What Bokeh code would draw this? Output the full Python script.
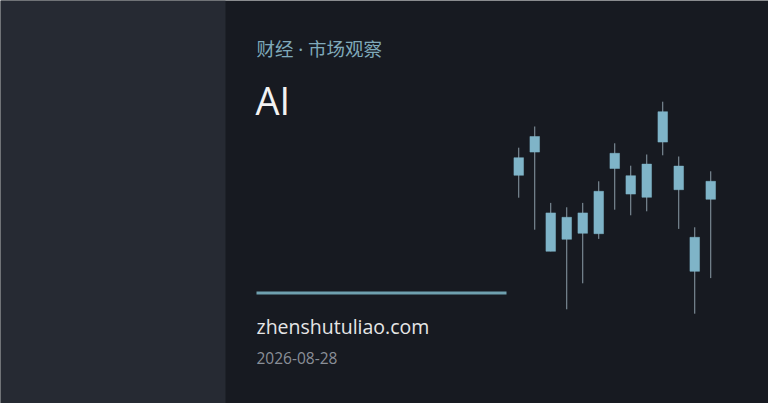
from bokeh.core.properties import value
from bokeh.embed import file_html
from bokeh.models import Range1d
from bokeh.plotting import figure
from bokeh.resources import INLINE

# card texts
kicker = "财经 · 市场观察"
title = "AI"
site = "zhenshutuliao.com"
date = "2026-08-28"

# candlestick data (arbitrary price units)
idx = list(range(13))
opens = [108.8, 114.6, 99.4, 92.8, 94.3, 94.2, 114.3, 108.7, 103.3, 117.1, 111.1, 93.3, 102.8]
closes = [113.2, 118.5, 89.8, 98.3, 99.4, 104.8, 110.5, 104.1, 111.6, 124.7, 105.2, 84.8, 107.3]
highs = [115.7, 121.0, 101.9, 100.8, 101.9, 107.3, 116.8, 111.2, 114.0, 127.2, 113.5, 95.8, 109.8]
lows = [103.2, 95.2, 89.8, 75.3, 81.8, 92.9, 100.2, 98.8, 99.8, 113.8, 95.4, 74.2, 83.1]

BG = "#171a21"
PANEL = "#262a33"
ACCENT = "#7fb4c8"

# frame coordinates are card pixels, y pointing down
p = figure(width=768, height=403, output_backend="svg", toolbar_location=None,
           x_range=Range1d(0, 768), y_range=Range1d(403, 0),
           min_border=0, outline_line_color=None,
           background_fill_color=BG, border_fill_color=BG)
p.axis.visible = False
p.grid.visible = False
p.extra_x_ranges = {"idx": Range1d(-32.39, 15.61)}
p.extra_y_ranges = {"price": Range1d(51.75, 152.5)}

# left panel
p.quad(left=[0], right=[225], bottom=[0], top=[410], color=PANEL, line_color=None)

p.text(x=[256], y=[47.5], text=[kicker], text_font=value("Noto Sans, Noto Sans CJK SC"),
       text_font_size="18.5px", text_color="#7fa9ba", text_baseline="middle")
p.text(x=[255], y=[99.5], text=[title], text_font=value("Open Sans"), text_font_size="38px",
       text_color="#f2f2f2", text_baseline="middle")
p.segment(x0=[256], y0=[292.5], x1=[506], y1=[292.5], line_color="#6fa0af", line_width=3)
p.text(x=[256], y=[325.5], text=[site], text_font=value("Open Sans"), text_font_size="19.5px",
       text_color="#e6e6e6", text_baseline="middle")
p.text(x=[256], y=[357], text=[date], text_font=value("Open Sans"), text_font_size="15.5px",
       text_color="#8a8f98", text_baseline="middle")

# candles
p.segment(x0=idx, y0=lows, x1=idx, y1=highs, x_range_name="idx", y_range_name="price",
          line_color="#8d9ea9", line_width=1)
tops = [max(o, c) for o, c in zip(opens, closes)]
bots = [min(o, c) for o, c in zip(opens, closes)]
p.vbar(x=idx, width=0.6, top=tops, bottom=bots, x_range_name="idx", y_range_name="price",
       fill_color=ACCENT, line_color=ACCENT, line_width=0.5)

open("out.html", "w").write(file_html(p, INLINE))
